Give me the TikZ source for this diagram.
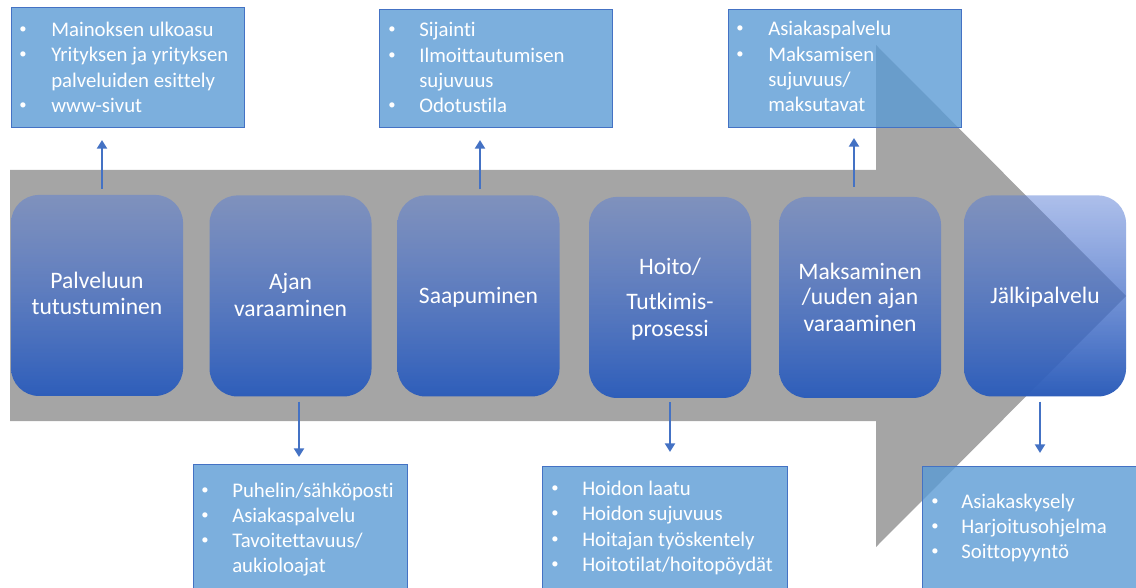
\documentclass[tikz,border=0pt]{standalone}
\usepackage{fontspec}
\setmainfont[Ligatures={NoCommon}]{Carlito}
\usetikzlibrary{arrows.meta,calc,fadings}
\definecolor{arrowgrey}{HTML}{A5A5A5}
\definecolor{rectblue}{HTML}{5B9BD5}
\definecolor{rectborder}{HTML}{4472C4}
\definecolor{conncol}{HTML}{4472C4}
\definecolor{rbtop}{HTML}{5A7ED5}
\definecolor{rbmid}{HTML}{4170CA}
\definecolor{rbbot}{HTML}{2E5EBA}
\tikzfading[name=boxfade, top color=transparent!50, bottom color=transparent!0]
\begin{document}
\begin{tikzpicture}[x=0.75pt,y=-0.75pt,
  stage/.style={rounded corners=21pt, minimum height=150.75pt, minimum width=121.5pt,
    inner sep=0pt, outer sep=0pt, top color=rbtop, middle color=rbmid, bottom color=rbbot,
    path fading=boxfade},
  infobox/.style={draw=rectborder, line width=0.75pt, fill=rectblue, fill opacity=0.8,
    inner sep=0pt, outer sep=0pt},
  lbl/.style={text=white, font=\fontsize{17.7}{20}\selectfont, anchor=base, inner sep=0pt},
  btxt/.style={text=white, font=\fontsize{15.6}{18}\selectfont, anchor=base west, inner sep=0pt},
  bdot/.style={text=white, font=\fontsize{11}{13}\selectfont, anchor=base, inner sep=0pt},
  conn/.style={draw=conncol, line width=2pt, -{Triangle[width=7.5pt,length=6.5pt]}}]
\useasboundingbox (0,0) rectangle (1136,588);
% big grey arrow
\fill[arrowgrey] (10,170) -- (876,170) -- (876,45) -- (1126,296) -- (876,547) -- (876,421) -- (10,421) -- cycle;
% stage boxes
\node[stage, minimum width=129pt] (b1) at (97,295.5) {};
\node[stage] (b2) at (290.5,296) {};
\node[stage] (b3) at (478.5,296) {};
\node[stage] (b4) at (670,297.5) {};
\node[stage] (b5) at (860,297.5) {};
\node[stage] (b6) at (1045,296) {};
% stage labels
\node[lbl] (b1a) at (97,289) {Palveluun};
\node[lbl] (b1b) at (97,315) {tutustuminen};
\node[lbl] (b2a) at (290.5,290) {Ajan};
\node[lbl] (b2b) at (290.5,316) {varaaminen};
\node[lbl] (b3a) at (478.5,303) {Saapuminen};
\node[lbl] (b4a) at (670,274) {Hoito/};
\node[lbl] (b4b) at (670,310) {Tutkimis-};
\node[lbl] (b4c) at (670,336) {prosessi};
\node[lbl] (b5a) at (860,279) {Maksaminen};
\node[lbl] (b5b) at (860,305) {/uuden ajan};
\node[lbl] (b5c) at (860,331) {varaaminen};
\node[lbl] (b6a) at (1045,303) {Jälkipalvelu};
% info boxes
\node[infobox, minimum width=174.75pt, minimum height=90pt] (t1) at (127.5,68) {};
\node[infobox, minimum width=174.75pt, minimum height=88.5pt] (t2) at (495.5,69) {};
\node[infobox, minimum width=174.75pt, minimum height=88.5pt] (t3) at (844.5,69) {};
\node[infobox, minimum width=160.5pt, minimum height=102pt] (d1) at (300,532) {};
\node[infobox, minimum width=183.75pt, minimum height=100.5pt] (d2) at (664.5,533) {};
\node[infobox, minimum width=171pt, minimum height=100.5pt] (d3) at (1036,533) {};
% top box 1
\node[bdot] (t1d1) at (23,34) {\textbullet};
\node[btxt] (t1l1) at (51,37) {Mainoksen ulkoasu};
\node[bdot] (t1d2) at (23,59) {\textbullet};
\node[btxt] (t1l2) at (51,62) {Yrityksen ja yrityksen};
\node[btxt] (t1l3) at (51,88) {palveluiden esittely};
\node[bdot] (t1d4) at (23,110) {\textbullet};
\node[btxt] (t1l4) at (51,113) {www-sivut};
% top box 2
\node[bdot] (t2d1) at (392,34) {\textbullet};
\node[btxt] (t2l1) at (419,37) {Sijainti};
\node[bdot] (t2d2) at (392,60) {\textbullet};
\node[btxt] (t2l2) at (419,63) {Ilmoittautumisen};
\node[btxt] (t2l3) at (419,88) {sujuvuus};
\node[bdot] (t2d4) at (392,110) {\textbullet};
\node[btxt] (t2l4) at (419,113) {Odotustila};
% top box 3
\node[bdot] (t3d1) at (740,33) {\textbullet};
\node[btxt] (t3l1) at (768,36) {Asiakaspalvelu};
\node[bdot] (t3d2) at (740,59) {\textbullet};
\node[btxt] (t3l2) at (768,62) {Maksamisen};
\node[btxt] (t3l3) at (768,87) {sujuvuus/};
\node[btxt] (t3l4) at (768,112) {maksutavat};
% bottom box 1
\node[bdot] (d1d1) at (205,494) {\textbullet};
\node[btxt] (d1l1) at (232,497) {Puhelin/sähköposti};
\node[bdot] (d1d2) at (205,519) {\textbullet};
\node[btxt] (d1l2) at (232,522) {Asiakaspalvelu};
\node[bdot] (d1d3) at (205,544) {\textbullet};
\node[btxt] (d1l3) at (232,547) {Tavoitettavuus/};
\node[btxt] (d1l4) at (232,572) {aukioloajat};
% bottom box 2
\node[bdot] (d2d1) at (555,492) {\textbullet};
\node[btxt] (d2l1) at (582,495) {Hoidon laatu};
\node[bdot] (d2d2) at (555,517) {\textbullet};
\node[btxt] (d2l2) at (582,520) {Hoidon sujuvuus};
\node[bdot] (d2d3) at (555,543) {\textbullet};
\node[btxt] (d2l3) at (582,546) {Hoitajan työskentely};
\node[bdot] (d2d4) at (555,568) {\textbullet};
\node[btxt] (d2l4) at (582,571) {Hoitotilat/hoitopöydät};
% bottom box 3
\node[bdot] (d3d1) at (935,505) {\textbullet};
\node[btxt] (d3l1) at (961,508) {Asiakaskysely};
\node[bdot] (d3d2) at (935,530) {\textbullet};
\node[btxt] (d3l2) at (961,533) {Harjoitusohjelma};
\node[bdot] (d3d3) at (935,555) {\textbullet};
\node[btxt] (d3l3) at (961,558) {Soittopyyntö};
% connectors
\draw[conn] ($(b1.north)+(5,-6)$) -- ($(b1.north |- t1.south)+(5,12)$);
\draw[conn] ($(b3.north)+(1.5,-6)$) -- ($(b3.north |- t2.south)+(1.5,12)$);
\draw[conn] ($(b5.north)+(-6,-10)$) -- ($(b5.north |- t3.south)+(-6,10)$);
\draw[conn] ($(b2.south)+(8.5,5)$) -- ($(b2.south |- d1.north)+(8.5,-7)$);
\draw[conn] ($(b4.south)+(0,4)$) -- ($(b4.south |- d2.north)+(0,-14)$);
\draw[conn] ($(b6.south)+(-5,5)$) -- ($(b6.south |- d3.north)+(-5,-13)$);
\end{tikzpicture}
\end{document}
